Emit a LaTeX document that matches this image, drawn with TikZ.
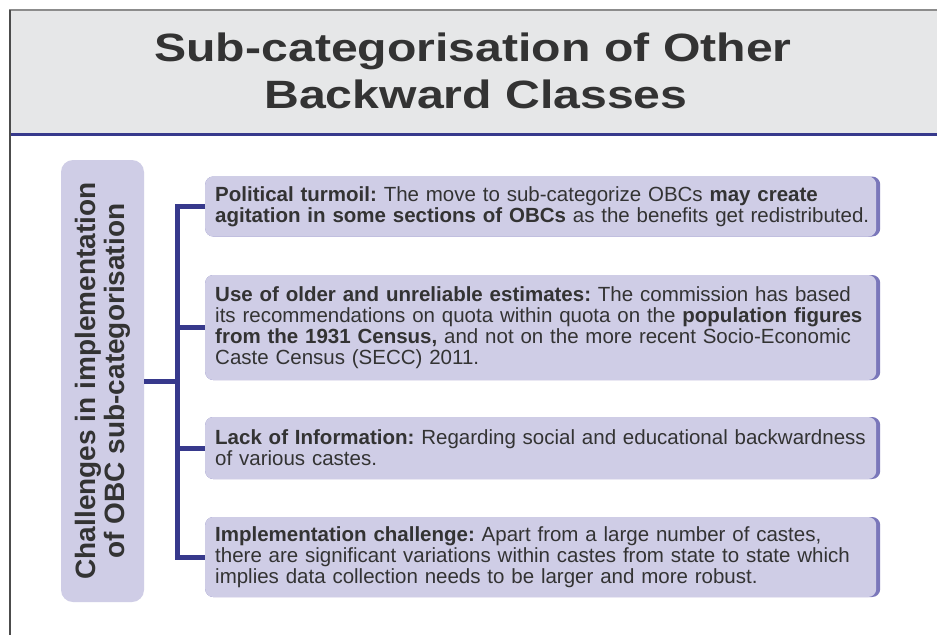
\documentclass[tikz,border=0pt]{standalone}
\usepackage{fontspec}
\usepackage{graphicx}
\setmainfont{Liberation Sans}
\definecolor{hdrgray}{RGB}{230,231,232}
\definecolor{navy}{RGB}{55,57,140}
\definecolor{lav}{RGB}{207,205,230}
\definecolor{lavedge}{RGB}{122,119,186}
\definecolor{txt}{RGB}{51,51,51}
\begin{document}
\frenchspacing
\begin{tikzpicture}[x=1pt,y=-1pt,
  titletext/.style={font=\fontsize{39.5}{47}\selectfont\bfseries, text=txt, inner sep=0pt},
  itembox/.style={anchor=west, rounded corners=8pt, fill=lavedge, text=txt,
    text width=655pt, inner xsep=10pt, inner ysep=0pt, align=left,
    font=\fontsize{20.5}{20.8}\selectfont\frenchspacing,
    path picture={\fill[lav, rounded corners=8pt] (path picture bounding box.north west) rectangle ([xshift=-4pt]path picture bounding box.south east);}},
  sidebox/.style={rotate=90, rounded corners=12pt, fill=lav, text=txt, align=center,
    minimum width=442pt, minimum height=83pt, inner sep=0pt,
    font=\fontsize{28}{29}\selectfont\bfseries},
  conn/.style={draw=navy, line width=5pt, line join=miter}
]
\useasboundingbox (0,0) rectangle (937,635);
\fill[white] (0,0) rectangle (937,635);
% header band
\fill[hdrgray] (9,10) rectangle (937,133);
\draw[black!45, line width=1.5pt] (9,10) -- (937,10);
\draw[navy, line width=3pt] (9,134.5) -- (937,134.5);
\draw[black!70, line width=2pt] (9.5,10) -- (9.5,635);
% title
\node[titletext, anchor=base] (t1) at (473,61) {\scalebox{1.22}[1]{Sub-categorisation of Other}};
\node[titletext, anchor=base] (t2) at (476,108) {\scalebox{1.22}[1]{Backward Classes}};
% side label
\node[sidebox] (lb) at (102.5,381) {Challenges in implementation\\of OBC sub-categorisation};
% item boxes
\node[itembox, minimum height=60pt] (b1) at (205,206.5) {\textbf{Political turmoil:} The move to sub-categorize OBCs \textbf{may create}\\\textbf{agitation in some sections of OBCs} as the benefits get redistributed.};
\node[itembox, minimum height=105pt] (b2) at (205,327.5) {\textbf{Use of older and unreliable estimates:} The commission has based\\its recommendations on quota within quota on the \textbf{population figures}\\\textbf{from the 1931 Census,} and not on the more recent Socio-Economic\\Caste Census (SECC) 2011.};
\node[itembox, minimum height=62pt] (b3) at (205,448) {\textbf{Lack of Information:} Regarding social and educational backwardness\\of various castes.};
\node[itembox, minimum height=80pt] (b4) at (205,557) {\textbf{Implementation challenge:} Apart from a large number of castes,\\there are significant variations within castes from state to state which\\implies data collection needs to be larger and more robust.};
% connectors
\coordinate (jn) at (177,381);
\draw[conn] (b1.west) -| (jn) |- (b4.west);
\draw[conn] (lb.south) -- (jn);
\draw[conn] (b2.west) -- (b2.west -| jn);
\draw[conn] (b3.west) -- (b3.west -| jn);
\end{tikzpicture}
\end{document}
